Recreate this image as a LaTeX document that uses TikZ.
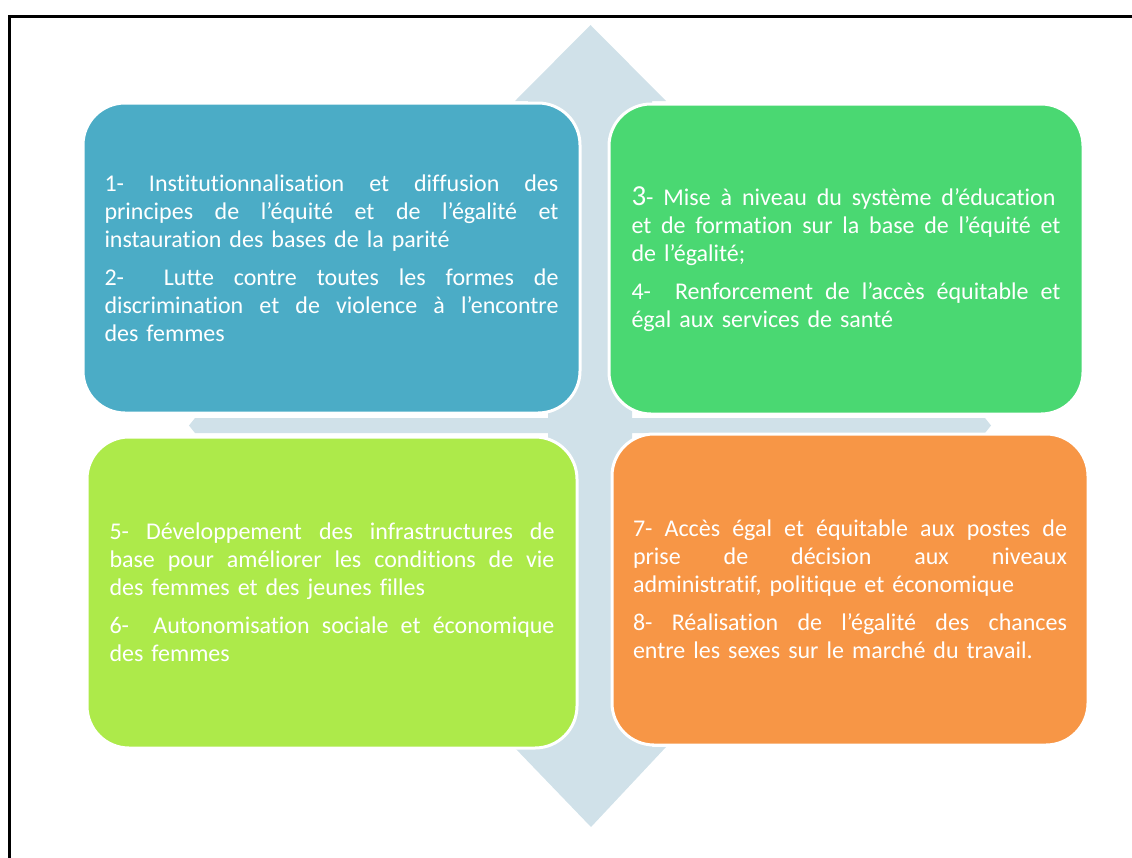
\documentclass[tikz,border=0pt]{standalone}
\usepackage{fontspec}
\setmainfont{Carlito}[Ligatures=NoCommon]
\definecolor{boxblue}{RGB}{75,172,198}
\definecolor{boxgreen}{RGB}{74,216,114}
\definecolor{boxlime}{RGB}{173,234,74}
\definecolor{boxorange}{RGB}{247,150,70}
\definecolor{crossgrey}{RGB}{208,225,233}
\newcommand\jline[2]{\makebox[#1][s]{\spaceskip=0pt\xspaceskip=0pt\relax #2}}
\begin{document}
\begin{tikzpicture}[x=1pt,y=-1pt,
  box/.style={draw=white, line width=3pt, rounded corners=42pt, text=white,
    align=left, inner sep=0pt, font=\fontsize{24}{28}\selectfont},
  frame/.style={line width=3.5pt, black}]
\useasboundingbox (0,0) rectangle (1132,857);
\clip (0,0) rectangle (1132,857);
% frame
\draw[frame] (9.5,860) -- (9.5,16.3) -- (1135,16.3);
% cross arrow
\fill[crossgrey] (590.5,25) -- (666,101) -- (652,101) -- (652,300) -- (632,300)
  -- (632,418) -- (985,418) -- (991,425.5) -- (985,433) -- (632,433)
  -- (632,560) -- (652,560) -- (652,747) -- (666,747) -- (591,827)
  -- (514,747) -- (528,747) -- (528,560) -- (548,560)
  -- (548,433) -- (195,433) -- (189,425.5) -- (195,418) -- (548,418)
  -- (548,300) -- (528,300) -- (528,101) -- (515,101) -- cycle;
% boxes
\node[box, fill=boxblue, minimum width=497pt, minimum height=310pt, text width=454pt] (b1) at (331.5,258) {%
\jline{454pt}{1- Institutionnalisation et diffusion des}\\
\jline{454pt}{principes de l’équité et de l’égalité et}\\
instauration des bases de la parité\\[10pt]
\jline{454pt}{2-\ \ Lutte contre toutes les formes de}\\
\jline{454pt}{discrimination et de violence à l’encontre}\\
des femmes};
\node[box, fill=boxgreen, minimum width=474pt, minimum height=310pt, text width=429pt] (b2) at (846,259) {%
\jline{424pt}{{\fontsize{29}{28}\selectfont 3}- Mise à niveau du système d’éducation}\\
\jline{429pt}{et de formation sur la base de l’équité et}\\
de l’égalité;\\[10pt]
\jline{429pt}{4-\ \ Renforcement de l’accès équitable et}\\
égal aux services de santé};
\node[box, fill=boxlime, minimum width=490pt, minimum height=311pt, text width=445pt] (b3) at (332,592.5) {%
\jline{445pt}{5- Développement des infrastructures de}\\
\jline{445pt}{base pour améliorer les conditions de vie}\\
des femmes et des jeunes filles\\[10pt]
\jline{445pt}{6-\ \ Autonomisation sociale et économique}\\
des femmes};
\node[box, fill=boxorange, minimum width=476pt, minimum height=311pt, text width=434pt] (b4) at (850,589.5) {%
\jline{434pt}{7- Accès égal et équitable aux postes de}\\
\jline{434pt}{prise de décision aux niveaux}\\
administratif, politique et économique\\[10pt]
\jline{434pt}{8- Réalisation de l’égalité des chances}\\
entre les sexes sur le marché du travail.};
\end{tikzpicture}
\end{document}
